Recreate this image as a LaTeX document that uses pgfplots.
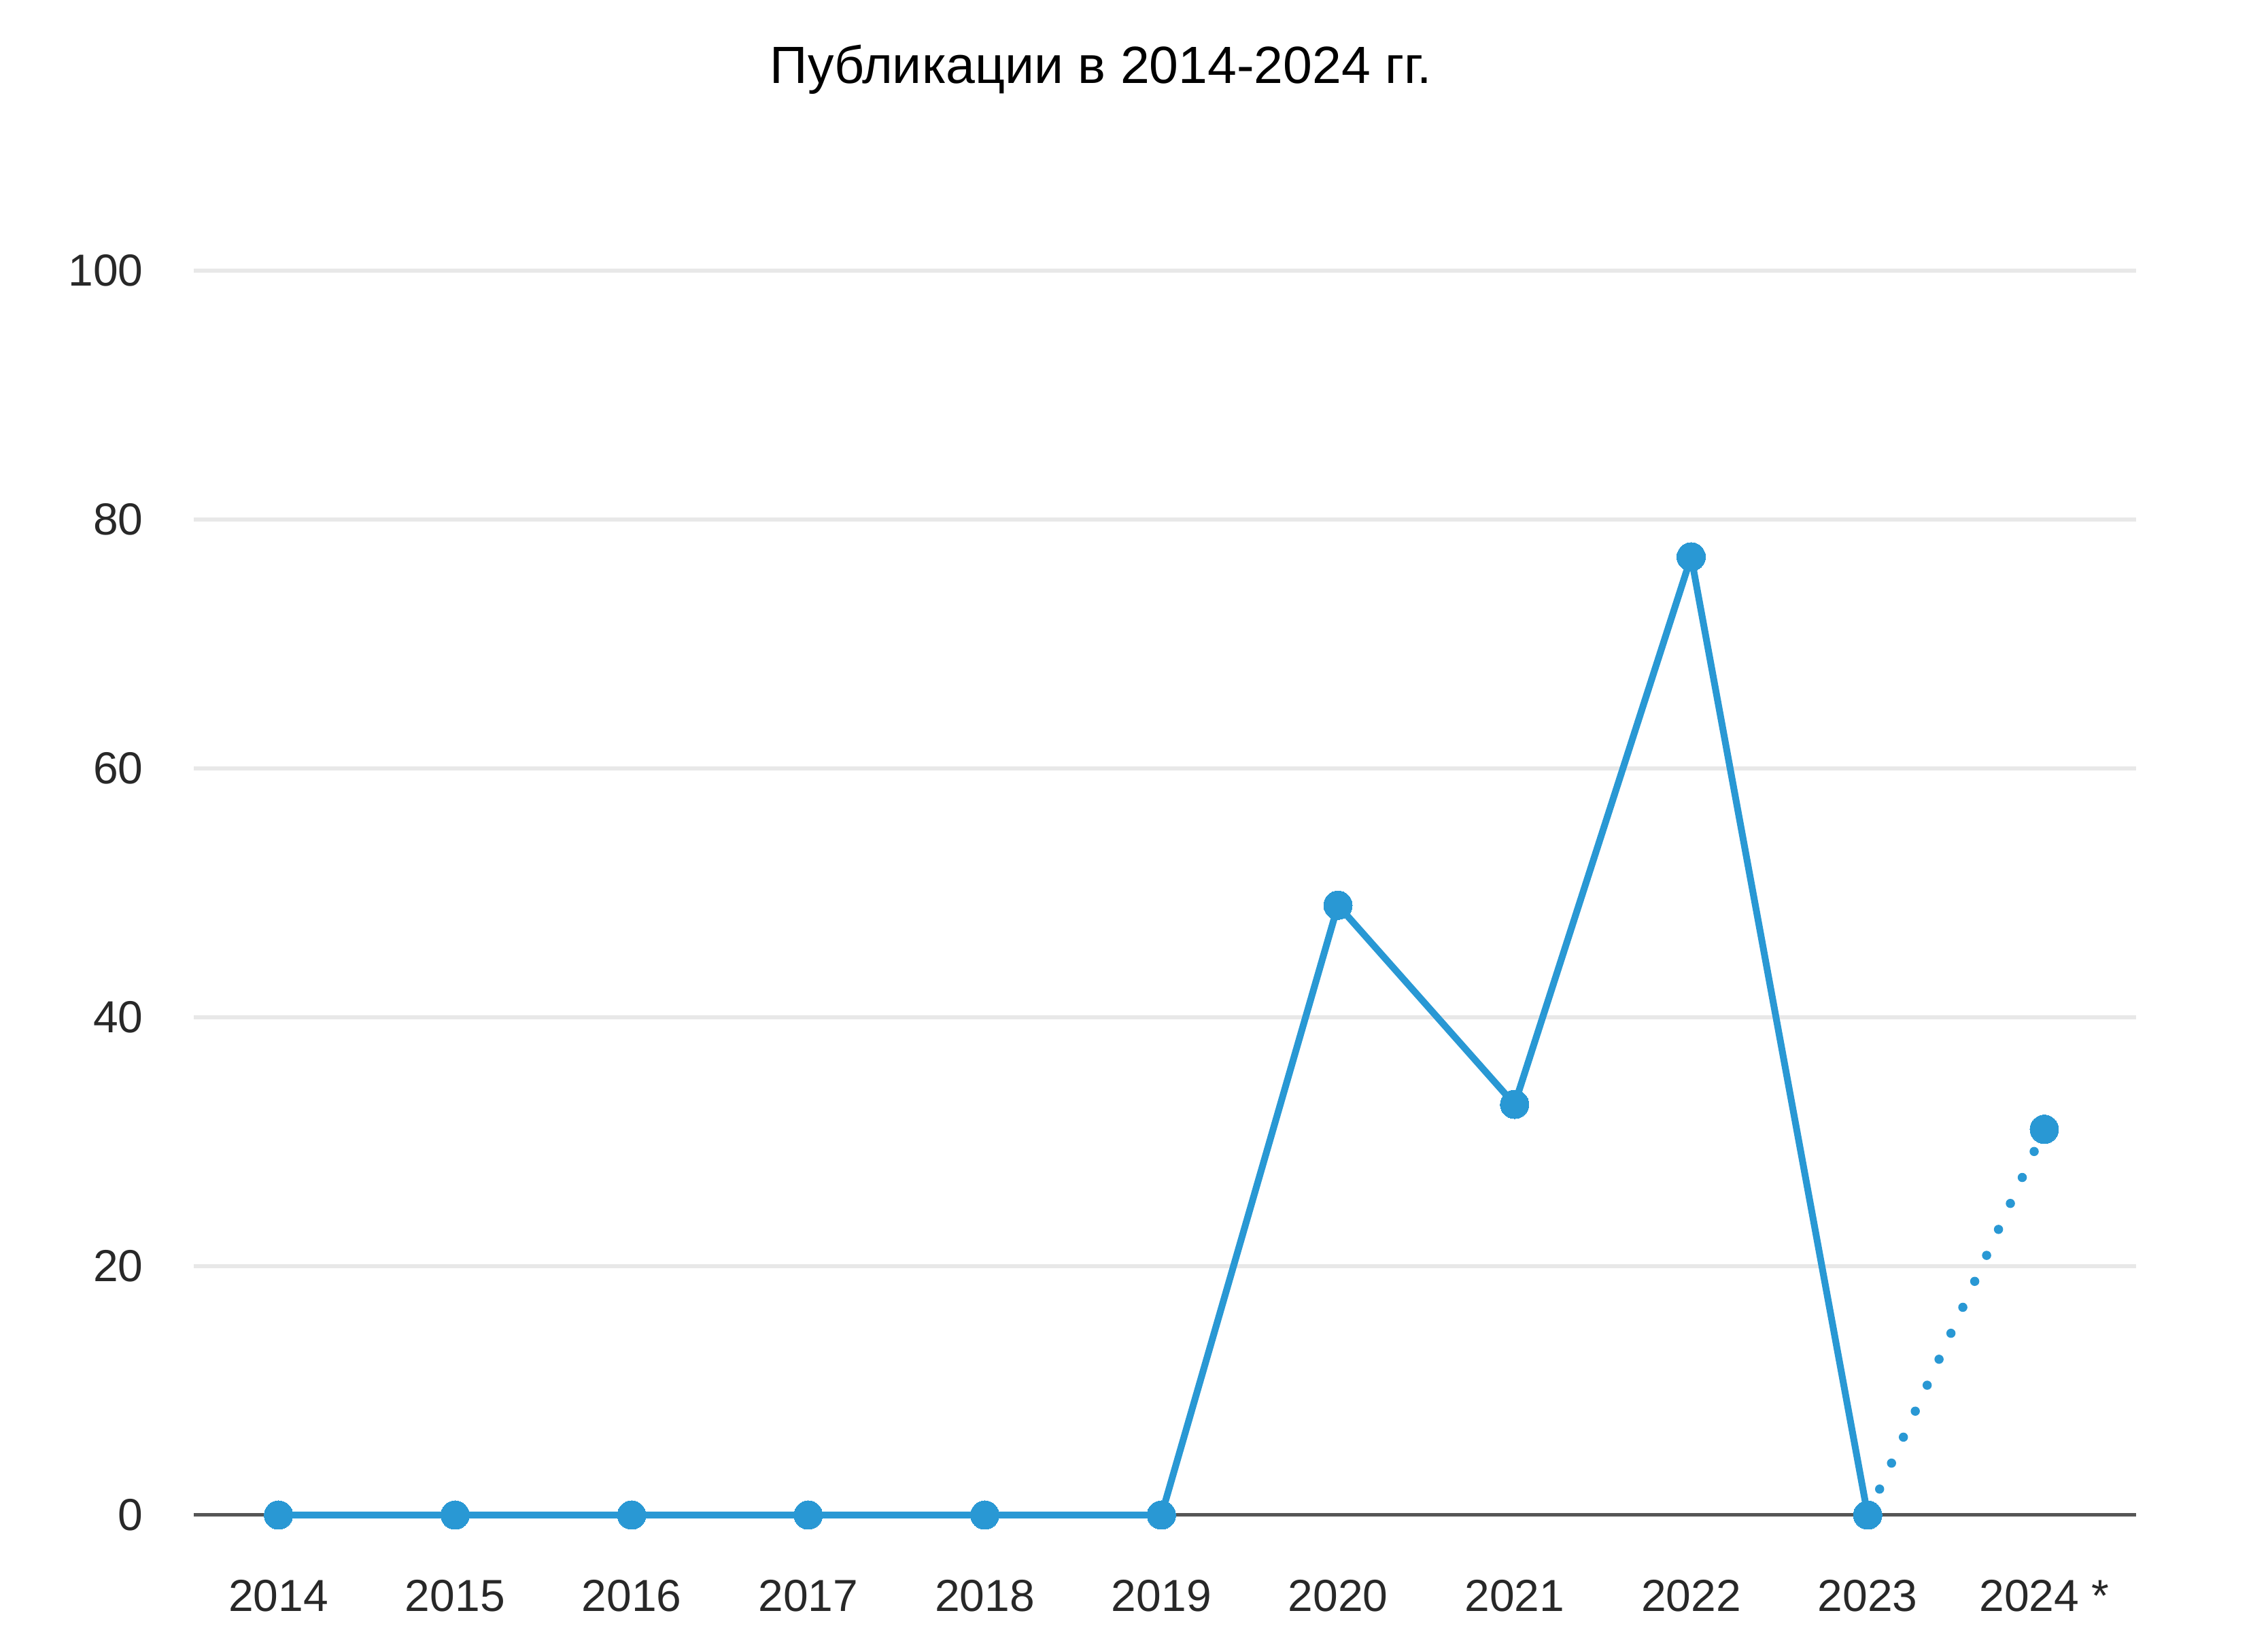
\documentclass[border=0pt]{standalone}
\usepackage{fontspec}
\setmainfont{Liberation Sans}
\usepackage{pgfplots}
\pgfplotsset{compat=1.18}
\definecolor{lineblue}{RGB}{41,152,212}
\definecolor{gridgray}{RGB}{232,232,232}
\definecolor{axisgray}{RGB}{85,85,85}
\definecolor{txt}{RGB}{40,40,40}
\begin{document}
\begin{tikzpicture}
\begin{axis}[
  scale only axis,
  width=285.7pt, height=183pt,
  xmin=-0.48, xmax=10.52,
  ymin=0, ymax=100,
  clip=false,
  axis x line*=bottom,
  axis y line*=left,
  x axis line style={-, axisgray, line width=0.5pt},
  y axis line style={draw=none},
  xtick={0,...,10},
  xticklabels={2014,2015,2016,2017,2018,2019,2020,2021,2022,2023,2024 *},
  ytick={0,20,40,60,80,100},
  ymajorgrids,
  grid style={gridgray, line width=0.6pt},
  major tick length=0pt,
  tick style={draw=none},
  /pgf/number format/assume math mode=true,
  xticklabel style={font=\fontsize{6.6}{7}\selectfont, text=txt, anchor=center, yshift=-11.9pt},
  yticklabel style={font=\fontsize{6.6}{7}\selectfont, text=txt, xshift=-3.9pt},
  title={Публикации в 2014-2024 гг.},
  title style={font=\fontsize{7.7}{9}\selectfont, text=black, at={(0.467,1)}, anchor=center, yshift=23.6pt},
]
\addplot[lineblue, line width=1pt, mark=*, mark size=2.1pt, mark options={fill=lineblue, draw=lineblue, line width=0pt}] coordinates {
 (0,0) (1,0) (2,0) (3,0) (4,0) (5,0) (6,49) (7,33) (8,77) (9,0)
};
\addplot[lineblue, line width=1.35pt, line cap=round, dash pattern=on 0pt off 4.2pt, forget plot] coordinates {(9,0) (10,31)};
\addplot[only marks, mark=*, mark size=2.1pt, lineblue, mark options={fill=lineblue, draw=lineblue, line width=0pt}] coordinates {(10,31)};
\end{axis}
\path (current axis.south west) ++(-28.5pt,-19.4pt) coordinate (bbA);
\path (current axis.north east) ++(19.4pt,39.8pt) coordinate (bbB);
\pgfresetboundingbox
\useasboundingbox (bbA) rectangle (bbB);
\end{tikzpicture}
\end{document}
